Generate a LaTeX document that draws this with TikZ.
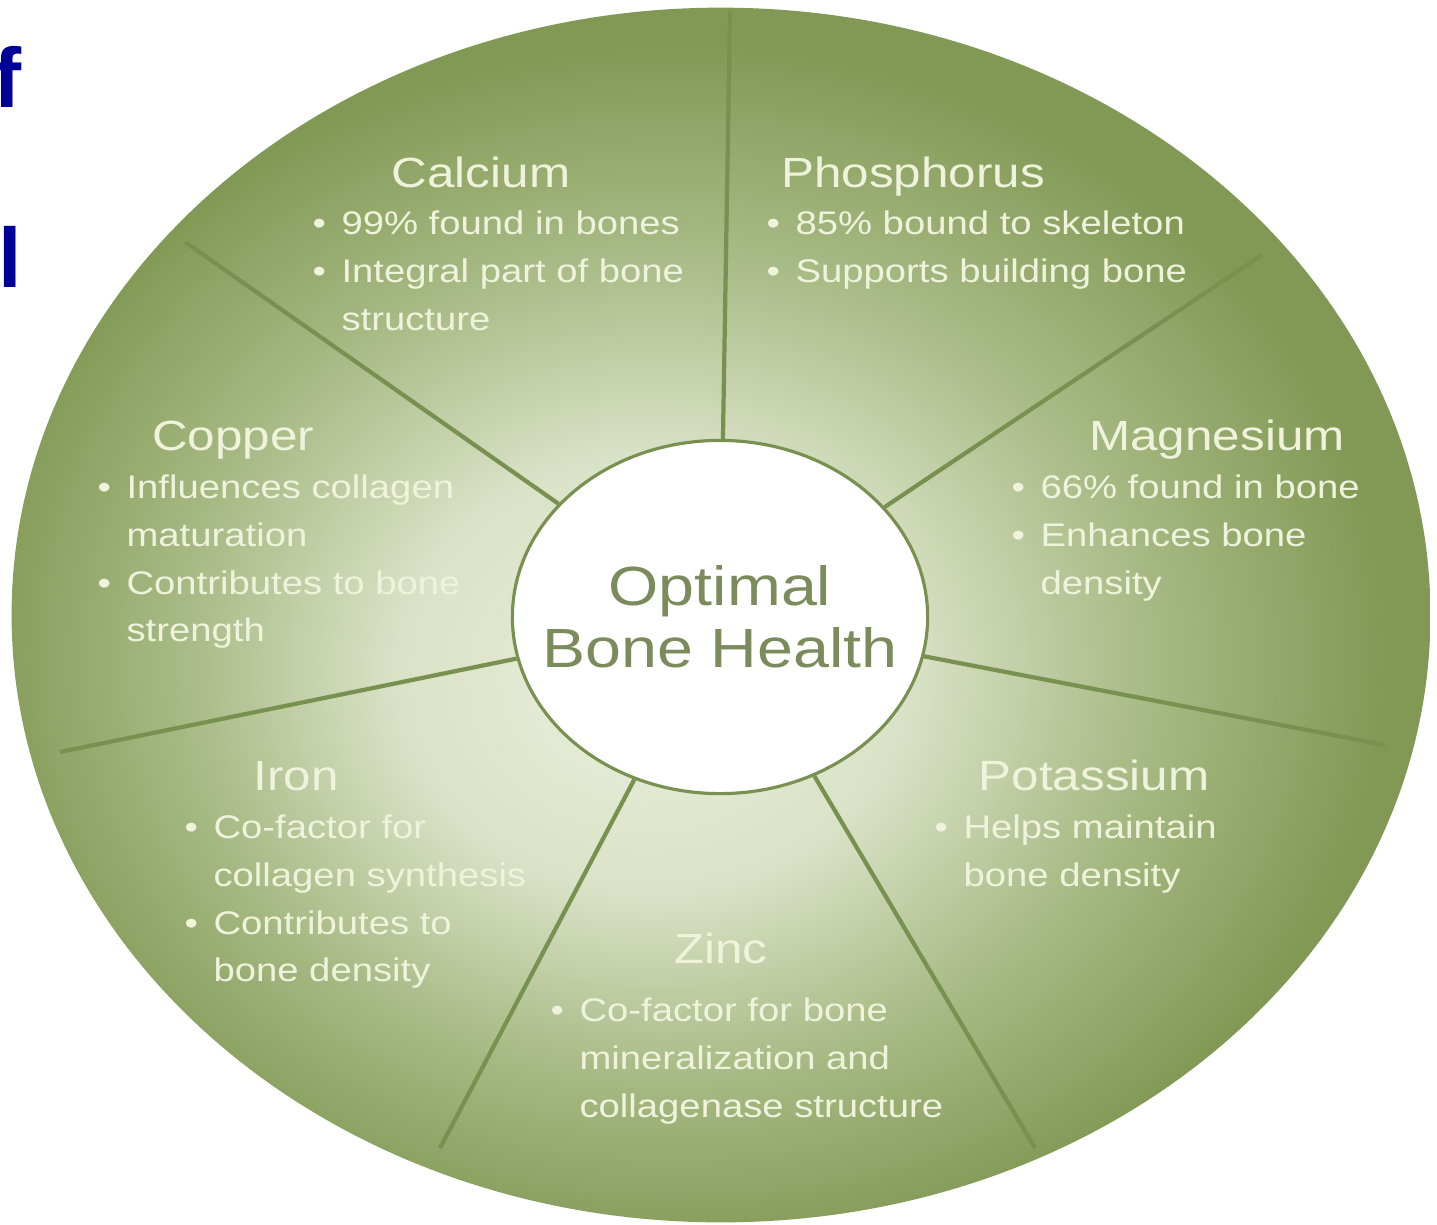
\documentclass[tikz,border=0pt]{standalone}
\usepackage{fontspec}
\setmainfont{Liberation Sans}[FakeStretch=1.17]
\newfontfamily\slidefont{Liberation Sans}
\usepackage{tikz}
\usetikzlibrary{shapes.geometric, positioning}

\definecolor{wheelouter}{HTML}{829955}
\definecolor{wheelmid}{HTML}{A8BA85}
\definecolor{wheelinner}{HTML}{EAEFDC}
\definecolor{spokegreen}{HTML}{789050}
\definecolor{labelcream}{HTML}{F0F3DC}
\definecolor{hubtext}{HTML}{7B8B5B}
\definecolor{slideblue}{HTML}{000096}

\pgfdeclareradialshading{wheelshade}{\pgfpoint{-3bp}{-3bp}}{%
  color(0bp)=(wheelinner); color(9bp)=(wheelinner!75!wheelmid);
  color(17bp)=(wheelmid); color(25bp)=(wheelouter); color(50bp)=(wheelouter)}

\newcommand{\fact}{\makebox[8.2pt][l]{\textbullet}}
\newcommand{\factcont}{\hspace*{8.2pt}}

\begin{document}
\begin{tikzpicture}[x=0.01cm, y=-0.01cm,
        spoke/.style={draw=spokegreen, line width=1.2pt},
        hub/.style={ellipse, draw=spokegreen, line width=0.9pt, fill=white,
            minimum width=4.15cm, minimum height=3.53cm, inner sep=0pt},
        hublabel/.style={text=hubtext, inner sep=0pt, align=center,
            font=\fontsize{15.7}{17.5}\selectfont},
        mineral/.style={text=labelcream, anchor=base, inner sep=0pt, font=\fontsize{12}{14}\selectfont},
        facts/.style={text=labelcream, anchor=north west, inner sep=0pt, align=left,
            font=\fontsize{9.3}{13.6}\selectfont},
        slideletter/.style={text=slideblue, anchor=base east, inner sep=0pt,
            font=\slidefont\bfseries\fontsize{24}{28}\selectfont}
    ]
    \useasboundingbox (0,0) rectangle (1437,1224);
    \fill[white] (0,0) rectangle (1437,1224);

    % slide title, cut off at the left
    \node[slideletter] (titlef) at (22,107) {f};
    \node[slideletter] (titlel) at (23,287) {l};

    % wheel
    \shade[shading=wheelshade] (721,615) ellipse [x radius=7.09cm, y radius=6.07cm];

    % hub
    \node[hub] (hub) at (720,617) {};
    \node[hublabel] (hub_label) at (hub.center) {Optimal\\Bone Health};

    % spokes
    \coordinate (s1) at (730,12);
    \coordinate (s2) at (1262,255);
    \coordinate (s3) at (1385,745);
    \coordinate (s4) at (1035,1148);
    \coordinate (s5) at (440,1148);
    \coordinate (s6) at (60,752);
    \coordinate (s7) at (185,242);
    \foreach \s in {s1,s2,s3,s4,s5,s6,s7}
        \draw[spoke] (hub) -- (\s);

    % Calcium
    \node[mineral] (calcium) at (481,187) {Calcium};
    \node[facts] (calcium_facts) at (312,210) {\fact 99\% found in bones\\
        \fact Integral part of bone\\ \factcont structure};

    % Phosphorus
    \node[mineral] (phosphorus) at (913,187) {Phosphorus};
    \node[facts] (phosphorus_facts) at (766,210) {\fact 85\% bound to skeleton\\
        \fact Supports building bone};

    % Copper
    \node[mineral] (copper) at (233,450) {Copper};
    \node[facts] (copper_facts) at (97,474) {\fact Influences collagen\\
        \factcont maturation\\ \fact Contributes to bone\\ \factcont strength};

    % Magnesium
    \node[mineral] (magnesium) at (1217,450) {Magnesium};
    \node[facts] (magnesium_facts) at (1011,474) {\fact 66\% found in bone\\
        \fact Enhances bone\\ \factcont density};

    % Iron
    \node[mineral] (iron) at (296,790) {Iron};
    \node[facts] (iron_facts) at (184,814) {\fact Co-factor for\\
        \factcont collagen synthesis\\ \fact Contributes to\\ \factcont bone density};

    % Potassium
    \node[mineral] (potassium) at (1094,790) {Potassium};
    \node[facts] (potassium_facts) at (934,814) {\fact Helps maintain\\
        \factcont bone density};

    % Zinc
    \node[mineral] (zinc) at (721,963) {Zinc};
    \node[facts] (zinc_facts) at (550,997) {\fact Co-factor for bone\\
        \factcont mineralization and\\ \factcont collagenase structure};

\end{tikzpicture}
\end{document}
